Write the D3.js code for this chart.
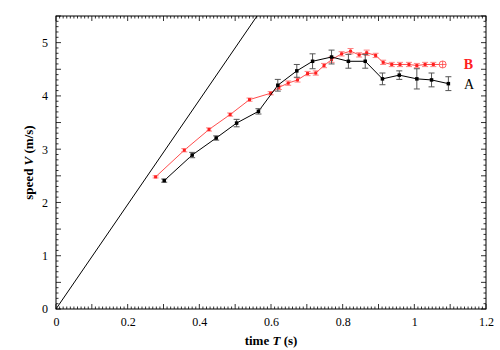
<!DOCTYPE html>
<html>
<head>
<meta charset="utf-8">
<script src="https://cdn.jsdelivr.net/npm/d3@7"></script>
<style>
  body { margin: 0; background: #fff; }
  text { font-family: "Liberation Serif", "DejaVu Serif", serif; }
</style>
</head>
<body>
<div id="chart"></div>
<script>
// Series A (black)
const tA = [0.302, 0.380, 0.447, 0.504, 0.565, 0.619, 0.672, 0.716, 0.769, 0.816, 0.863, 0.911, 0.958, 1.007, 1.048, 1.095];
const vA = [2.41, 2.89, 3.21, 3.49, 3.71, 4.20, 4.47, 4.65, 4.73, 4.65, 4.65, 4.32, 4.39, 4.32, 4.30, 4.23];
const eA = [0.03, 0.05, 0.04, 0.07, 0.05, 0.11, 0.12, 0.14, 0.13, 0.13, 0.13, 0.11, 0.08, 0.19, 0.13, 0.13];

// Series B (red)
const tB = [0.278, 0.358, 0.427, 0.486, 0.540, 0.599, 0.622, 0.648, 0.674, 0.702, 0.725, 0.748, 0.769, 0.797, 0.822, 0.846, 0.867, 0.892, 0.913, 0.937, 0.960, 0.985, 1.007, 1.030, 1.053, 1.079];
const vB = [2.48, 2.98, 3.37, 3.65, 3.93, 4.05, 4.16, 4.24, 4.30, 4.42, 4.43, 4.57, 4.68, 4.79, 4.84, 4.77, 4.81, 4.76, 4.63, 4.59, 4.59, 4.59, 4.57, 4.59, 4.59, 4.59];
const eB = [0.02, 0.03, 0.03, 0.03, 0.03, 0.03, 0.04, 0.04, 0.04, 0.04, 0.04, 0.04, 0.05, 0.04, 0.05, 0.04, 0.05, 0.04, 0.04, 0.04, 0.04, 0.04, 0.04, 0.04, 0.04, 0.04];

// free fall reference line V = g T
const lineT = [0, 0.561];
const lineV = [0, 5.5];

const xTicks = [0, 0.2, 0.4, 0.6, 0.8, 1, 1.2];
const yTicks = [0, 1, 2, 3, 4, 5];

const width = 500, height = 350;
const margin = { top: 16, right: 14, bottom: 41, left: 56 };
const W = width - margin.left - margin.right;
const H = height - margin.top - margin.bottom;

const svg = d3.select("#chart").append("svg")
   .attr("width", width)
   .attr("height", height);

const g = svg.append("g")
   .attr("transform", `translate(${margin.left},${margin.top})`);

const x = d3.scaleLinear().domain([0, 1.2]).range([0, W]);
const y = d3.scaleLinear().domain([0, 5.5]).range([H, 0]);

// inward ticks on all four sides
const xMinor = d3.range(0, 121).map(i => i / 100);
const yMinor = d3.range(0, 56).map(i => i / 10);
const tickLen = (v, step) => Math.abs(Math.round(v / step) * step - v) < 1e-6 ? 5 : 2.5;

function xTickMarks(yPos, dir) {
   g.append("g").selectAll("line")
      .data(xMinor)
      .enter().append("line")
      .attr("x1", d => x(d)).attr("x2", d => x(d))
      .attr("y1", yPos)
      .attr("y2", d => yPos + dir * tickLen(d, 0.1))
      .attr("stroke", "#000").attr("stroke-width", 0.8);
}
function yTickMarks(xPos, dir) {
   g.append("g").selectAll("line")
      .data(yMinor)
      .enter().append("line")
      .attr("y1", d => y(d)).attr("y2", d => y(d))
      .attr("x1", xPos)
      .attr("x2", d => xPos + dir * tickLen(d, 0.5))
      .attr("stroke", "#000").attr("stroke-width", 0.8);
}
xTickMarks(H, -1);
xTickMarks(0, 1);
yTickMarks(0, 1);
yTickMarks(W, -1);

// axes with labels only
const xAxis = g.append("g")
   .attr("transform", `translate(0,${H})`)
   .call(d3.axisBottom(x).tickValues(xTicks).tickSize(0).tickPadding(8).tickFormat(d3.format("")));
const yAxis = g.append("g")
   .call(d3.axisLeft(y).tickValues(yTicks).tickSize(0).tickPadding(8).tickFormat(d3.format("")));
[xAxis, yAxis].forEach(a => {
   a.select(".domain").remove();
   a.selectAll("text").attr("font-size", 12).attr("font-family", "Liberation Serif").attr("fill", "#000");
});

g.append("rect")
   .attr("width", W).attr("height", H)
   .attr("fill", "none").attr("stroke", "#000").attr("stroke-width", 1);

// free fall line
g.append("path")
   .datum(lineT.map((t, i) => [t, lineV[i]]))
   .attr("fill", "none").attr("stroke", "#000").attr("stroke-width", 1)
   .attr("d", d3.line().x(d => x(d[0])).y(d => y(d[1])));

function drawSeries(ts, vs, es, lineColor, barColor, markerSize, lineWidth) {
   const pts = ts.map((t, i) => ({ t, v: vs[i], e: es[i] }));
   g.append("path")
      .datum(pts)
      .attr("fill", "none").attr("stroke", lineColor).attr("stroke-width", lineWidth)
      .attr("d", d3.line().x(d => x(d.t)).y(d => y(d.v)));

   const bars = g.append("g").selectAll("g").data(pts).enter().append("g")
      .attr("stroke", barColor).attr("stroke-width", 1);
   bars.append("line")
      .attr("x1", d => x(d.t)).attr("x2", d => x(d.t))
      .attr("y1", d => y(d.v - d.e)).attr("y2", d => y(d.v + d.e));
   bars.append("line")
      .attr("x1", d => x(d.t) - 3).attr("x2", d => x(d.t) + 3)
      .attr("y1", d => y(d.v - d.e)).attr("y2", d => y(d.v - d.e));
   bars.append("line")
      .attr("x1", d => x(d.t) - 3).attr("x2", d => x(d.t) + 3)
      .attr("y1", d => y(d.v + d.e)).attr("y2", d => y(d.v + d.e));

   g.append("g").selectAll("rect").data(pts).enter().append("rect")
      .attr("x", d => x(d.t) - markerSize / 2)
      .attr("y", d => y(d.v) - markerSize / 2)
      .attr("width", markerSize).attr("height", markerSize)
      .attr("fill", lineColor);
   return pts;
}

drawSeries(tB, vB, eB, "#ff2020", "#ff8080", 3, 0.8);
drawSeries(tA, vA, eA, "#000", "#555", 3.5, 1);

// circled plus on last B point
const lastB = tB.length - 1;
const cx = x(tB[lastB]), cy = y(vB[lastB]);
g.append("circle").attr("cx", cx).attr("cy", cy).attr("r", 3.5)
   .attr("fill", "#fff").attr("stroke", "#ff4040").attr("stroke-width", 0.8);
g.append("path")
   .attr("d", `M${cx - 3.5},${cy}H${cx + 3.5}M${cx},${cy - 3.5}V${cy + 3.5}`)
   .attr("stroke", "#ff4040").attr("stroke-width", 0.8);

// series labels
g.append("text")
   .attr("x", 468.5 - margin.left).attr("y", 69 - margin.top)
   .attr("text-anchor", "middle").attr("font-size", 14).attr("font-weight", "bold")
   .attr("fill", "#ff2020").text("B");
g.append("text")
   .attr("x", 469 - margin.left).attr("y", 89 - margin.top)
   .attr("text-anchor", "middle").attr("font-size", 14)
   .attr("fill", "#000").text("A");

// axis titles
const xt = svg.append("text")
   .attr("x", margin.left + W / 2).attr("y", 345)
   .attr("text-anchor", "middle").attr("font-size", 13).attr("font-weight", "bold");
xt.append("tspan").text("time ");
xt.append("tspan").attr("font-style", "italic").text("T");
xt.append("tspan").text(" (s)");

const yt = svg.append("text")
   .attr("transform", `translate(33,${margin.top + H / 2}) rotate(-90)`)
   .attr("text-anchor", "middle").attr("font-size", 13).attr("font-weight", "bold");
yt.append("tspan").text("speed ");
yt.append("tspan").attr("font-style", "italic").text("V");
yt.append("tspan").text(" (m/s)");
</script>
</body>
</html>
